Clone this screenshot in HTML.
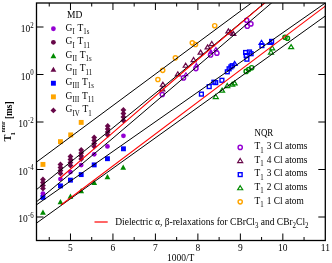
<!DOCTYPE html><html><head><meta charset="utf-8"><style>html,body{margin:0;padding:0;background:#fff}body{width:332px;height:263px;overflow:hidden;position:relative;font-family:"Liberation Serif",serif}</style></head><body><svg width="332" height="263" viewBox="0 0 332 263" style="position:absolute;left:0;top:0;will-change:transform"><rect x="0" y="0" width="332" height="263" fill="#fff"/><defs><clipPath id="c"><rect x="36.50" y="3.00" width="288.80" height="237.50"/></clipPath></defs><rect x="40.50" y="161.95" width="4.90" height="4.90" fill="#ffa500"/><rect x="58.00" y="139.20" width="4.90" height="4.90" fill="#ffa500"/><rect x="68.25" y="132.45" width="4.90" height="4.90" fill="#ffa500"/><rect x="78.75" y="119.95" width="4.90" height="4.90" fill="#ffa500"/><path d="M42.95 209.60L45.85 214.68L40.05 214.68Z" fill="#008b00"/><path d="M60.45 199.10L63.35 204.18L57.55 204.18Z" fill="#008b00"/><path d="M70.45 193.60L73.35 198.68L67.55 198.68Z" fill="#008b00"/><path d="M81.20 188.10L84.10 193.18L78.30 193.18Z" fill="#008b00"/><path d="M94.20 179.85L97.10 184.93L91.30 184.93Z" fill="#008b00"/><path d="M107.45 174.10L110.35 179.18L104.55 179.18Z" fill="#008b00"/><path d="M123.20 164.60L126.10 169.68L120.30 169.68Z" fill="#008b00"/><rect x="40.50" y="194.95" width="4.90" height="4.90" fill="#0000ff"/><rect x="58.00" y="183.45" width="4.90" height="4.90" fill="#0000ff"/><rect x="68.00" y="177.70" width="4.90" height="4.90" fill="#0000ff"/><rect x="78.75" y="172.15" width="4.90" height="4.90" fill="#0000ff"/><rect x="91.75" y="162.45" width="4.90" height="4.90" fill="#0000ff"/><rect x="105.00" y="156.25" width="4.90" height="4.90" fill="#0000ff"/><rect x="121.00" y="146.35" width="4.90" height="4.90" fill="#0000ff"/><circle cx="42.95" cy="193.60" r="2.40" fill="#9400d3"/><circle cx="60.45" cy="179.10" r="2.40" fill="#9400d3"/><circle cx="70.45" cy="172.10" r="2.40" fill="#9400d3"/><circle cx="81.20" cy="165.10" r="2.40" fill="#9400d3"/><circle cx="94.20" cy="154.30" r="2.40" fill="#9400d3"/><circle cx="107.45" cy="146.40" r="2.40" fill="#9400d3"/><circle cx="123.45" cy="135.80" r="2.40" fill="#9400d3"/><path d="M42.95 176.60L45.85 179.50L42.95 182.40L40.05 179.50Z" fill="#670748"/><path d="M42.95 179.60L45.85 182.50L42.95 185.40L40.05 182.50Z" fill="#670748"/><path d="M42.95 182.60L45.85 185.50L42.95 188.40L40.05 185.50Z" fill="#670748"/><path d="M42.95 185.60L45.85 188.50L42.95 191.40L40.05 188.50Z" fill="#670748"/><path d="M60.45 161.60L63.35 164.50L60.45 167.40L57.55 164.50Z" fill="#670748"/><path d="M60.45 164.60L63.35 167.50L60.45 170.40L57.55 167.50Z" fill="#670748"/><path d="M60.45 167.60L63.35 170.50L60.45 173.40L57.55 170.50Z" fill="#670748"/><path d="M60.45 170.60L63.35 173.50L60.45 176.40L57.55 173.50Z" fill="#670748"/><path d="M70.45 153.60L73.35 156.50L70.45 159.40L67.55 156.50Z" fill="#670748"/><path d="M70.45 156.60L73.35 159.50L70.45 162.40L67.55 159.50Z" fill="#670748"/><path d="M70.45 159.60L73.35 162.50L70.45 165.40L67.55 162.50Z" fill="#670748"/><path d="M70.45 162.60L73.35 165.50L70.45 168.40L67.55 165.50Z" fill="#670748"/><path d="M81.20 147.10L84.10 150.00L81.20 152.90L78.30 150.00Z" fill="#670748"/><path d="M81.20 150.10L84.10 153.00L81.20 155.90L78.30 153.00Z" fill="#670748"/><path d="M81.20 153.10L84.10 156.00L81.20 158.90L78.30 156.00Z" fill="#670748"/><path d="M81.20 156.10L84.10 159.00L81.20 161.90L78.30 159.00Z" fill="#670748"/><path d="M94.20 134.60L97.10 137.50L94.20 140.40L91.30 137.50Z" fill="#670748"/><path d="M94.20 137.60L97.10 140.50L94.20 143.40L91.30 140.50Z" fill="#670748"/><path d="M94.20 140.60L97.10 143.50L94.20 146.40L91.30 143.50Z" fill="#670748"/><path d="M94.20 143.60L97.10 146.50L94.20 149.40L91.30 146.50Z" fill="#670748"/><path d="M107.70 123.10L110.60 126.00L107.70 128.90L104.80 126.00Z" fill="#670748"/><path d="M107.70 126.10L110.60 129.00L107.70 131.90L104.80 129.00Z" fill="#670748"/><path d="M107.70 129.10L110.60 132.00L107.70 134.90L104.80 132.00Z" fill="#670748"/><path d="M107.70 132.10L110.60 135.00L107.70 137.90L104.80 135.00Z" fill="#670748"/><path d="M123.40 107.10L126.30 110.00L123.40 112.90L120.50 110.00Z" fill="#670748"/><path d="M123.40 110.60L126.30 113.50L123.40 116.40L120.50 113.50Z" fill="#670748"/><path d="M123.40 114.10L126.30 117.00L123.40 119.90L120.50 117.00Z" fill="#670748"/><path d="M123.40 117.60L126.30 120.50L123.40 123.40L120.50 120.50Z" fill="#670748"/><circle cx="157.90" cy="79.50" r="2.10" fill="none" stroke="#ffa500" stroke-width="1.45"/><circle cx="162.70" cy="70.30" r="2.10" fill="none" stroke="#ffa500" stroke-width="1.45"/><circle cx="175.40" cy="57.80" r="2.10" fill="none" stroke="#ffa500" stroke-width="1.45"/><circle cx="192.30" cy="42.80" r="2.10" fill="none" stroke="#ffa500" stroke-width="1.45"/><circle cx="195.50" cy="44.50" r="2.10" fill="none" stroke="#ffa500" stroke-width="1.45"/><circle cx="214.70" cy="25.70" r="2.10" fill="none" stroke="#ffa500" stroke-width="1.45"/><path d="M162.90 82.20L165.40 86.25L160.40 86.25Z" fill="none" stroke="#670748" stroke-width="1.2"/><path d="M162.30 86.80L164.80 90.85L159.80 90.85Z" fill="none" stroke="#670748" stroke-width="1.2"/><path d="M177.80 71.80L180.30 75.85L175.30 75.85Z" fill="none" stroke="#670748" stroke-width="1.2"/><path d="M185.70 63.20L188.20 67.25L183.20 67.25Z" fill="none" stroke="#670748" stroke-width="1.2"/><path d="M193.60 57.50L196.10 61.55L191.10 61.55Z" fill="none" stroke="#670748" stroke-width="1.2"/><path d="M200.60 50.10L203.10 54.15L198.10 54.15Z" fill="none" stroke="#670748" stroke-width="1.2"/><path d="M207.60 44.90L210.10 48.95L205.10 48.95Z" fill="none" stroke="#670748" stroke-width="1.2"/><path d="M211.80 41.50L214.30 45.55L209.30 45.55Z" fill="none" stroke="#670748" stroke-width="1.2"/><path d="M228.40 28.90L230.90 32.95L225.90 32.95Z" fill="none" stroke="#670748" stroke-width="1.2"/><path d="M230.40 30.10L232.90 34.15L227.90 34.15Z" fill="none" stroke="#670748" stroke-width="1.2"/><path d="M233.30 31.30L235.80 35.35L230.80 35.35Z" fill="none" stroke="#670748" stroke-width="1.2"/><circle cx="162.30" cy="94.50" r="2.10" fill="none" stroke="#9400d3" stroke-width="1.45"/><circle cx="183.50" cy="77.90" r="2.10" fill="none" stroke="#9400d3" stroke-width="1.45"/><circle cx="195.90" cy="68.60" r="2.10" fill="none" stroke="#9400d3" stroke-width="1.45"/><circle cx="210.60" cy="55.00" r="2.10" fill="none" stroke="#9400d3" stroke-width="1.45"/><circle cx="216.90" cy="53.20" r="2.10" fill="none" stroke="#9400d3" stroke-width="1.45"/><circle cx="246.70" cy="20.30" r="2.10" fill="none" stroke="#9400d3" stroke-width="1.45"/><circle cx="247.30" cy="26.30" r="2.10" fill="none" stroke="#9400d3" stroke-width="1.45"/><circle cx="250.90" cy="23.90" r="2.10" fill="none" stroke="#9400d3" stroke-width="1.45"/><path d="M185.90 72.80L187.70 75.72L184.10 75.72Z" fill="none" stroke="#9400d3" stroke-width="1.2"/><path d="M196.40 63.50L198.20 66.42L194.60 66.42Z" fill="none" stroke="#9400d3" stroke-width="1.2"/><path d="M210.90 49.90L212.70 52.82L209.10 52.82Z" fill="none" stroke="#9400d3" stroke-width="1.2"/><path d="M215.90 47.60L217.70 50.52L214.10 50.52Z" fill="none" stroke="#9400d3" stroke-width="1.2"/><rect x="199.50" y="92.20" width="3.80" height="3.80" fill="none" stroke="#0000ff" stroke-width="1.4"/><rect x="207.30" y="84.70" width="3.80" height="3.80" fill="none" stroke="#0000ff" stroke-width="1.4"/><rect x="212.00" y="80.30" width="3.80" height="3.80" fill="none" stroke="#0000ff" stroke-width="1.4"/><rect x="213.80" y="80.70" width="3.80" height="3.80" fill="none" stroke="#0000ff" stroke-width="1.4"/><rect x="220.00" y="78.40" width="3.80" height="3.80" fill="none" stroke="#0000ff" stroke-width="1.4"/><rect x="225.40" y="69.90" width="3.80" height="3.80" fill="none" stroke="#0000ff" stroke-width="1.4"/><rect x="227.20" y="66.90" width="3.80" height="3.80" fill="none" stroke="#0000ff" stroke-width="1.4"/><rect x="229.00" y="65.00" width="3.80" height="3.80" fill="none" stroke="#0000ff" stroke-width="1.4"/><rect x="230.30" y="63.80" width="3.80" height="3.80" fill="none" stroke="#0000ff" stroke-width="1.4"/><rect x="243.70" y="50.60" width="3.80" height="3.80" fill="none" stroke="#0000ff" stroke-width="1.4"/><rect x="244.30" y="53.70" width="3.80" height="3.80" fill="none" stroke="#0000ff" stroke-width="1.4"/><rect x="245.00" y="57.30" width="3.80" height="3.80" fill="none" stroke="#0000ff" stroke-width="1.4"/><rect x="249.20" y="51.80" width="3.80" height="3.80" fill="none" stroke="#0000ff" stroke-width="1.4"/><rect x="247.60" y="50.10" width="3.80" height="3.80" fill="none" stroke="#0000ff" stroke-width="1.4"/><rect x="260.00" y="43.70" width="3.80" height="3.80" fill="none" stroke="#0000ff" stroke-width="1.4"/><rect x="269.70" y="39.50" width="3.80" height="3.80" fill="none" stroke="#0000ff" stroke-width="1.4"/><path d="M234.60 61.40L237.10 65.45L232.10 65.45Z" fill="none" stroke="#0000ff" stroke-width="1.2"/><path d="M261.50 40.30L264.00 44.35L259.00 44.35Z" fill="none" stroke="#0000ff" stroke-width="1.2"/><path d="M270.40 40.30L272.90 44.35L267.90 44.35Z" fill="none" stroke="#0000ff" stroke-width="1.2"/><path d="M215.80 94.50L218.30 98.55L213.30 98.55Z" fill="none" stroke="#008b00" stroke-width="1.2"/><path d="M222.10 88.10L224.60 92.15L219.60 92.15Z" fill="none" stroke="#008b00" stroke-width="1.2"/><path d="M227.30 83.50L229.80 87.55L224.80 87.55Z" fill="none" stroke="#008b00" stroke-width="1.2"/><path d="M232.20 82.10L234.70 86.15L229.70 86.15Z" fill="none" stroke="#008b00" stroke-width="1.2"/><path d="M234.60 80.90L237.10 84.95L232.10 84.95Z" fill="none" stroke="#008b00" stroke-width="1.2"/><path d="M272.20 45.80L274.70 49.85L269.70 49.85Z" fill="none" stroke="#008b00" stroke-width="1.2"/><path d="M271.00 50.00L273.50 54.05L268.50 54.05Z" fill="none" stroke="#008b00" stroke-width="1.2"/><path d="M291.10 44.60L293.60 48.65L288.60 48.65Z" fill="none" stroke="#008b00" stroke-width="1.2"/><circle cx="246.20" cy="71.40" r="2.10" fill="none" stroke="#008b00" stroke-width="1.45"/><circle cx="248.70" cy="69.50" r="2.10" fill="none" stroke="#008b00" stroke-width="1.45"/><circle cx="251.70" cy="67.70" r="2.10" fill="none" stroke="#008b00" stroke-width="1.45"/><circle cx="285.00" cy="37.20" r="2.10" fill="none" stroke="#008b00" stroke-width="1.45"/><circle cx="287.40" cy="38.20" r="2.10" fill="none" stroke="#008b00" stroke-width="1.45"/><g clip-path="url(#c)" stroke-width="1" fill="none"><polyline points="36.40,162.20 251.80,2.70" stroke="#000" stroke-width="1.00" stroke-linejoin="round"/><polyline points="36.40,189.70 110.00,130.20 186.00,68.30 230.00,31.80 264.90,2.70" stroke="#000" stroke-width="1.00" stroke-linejoin="round"/><polyline points="36.40,201.90 110.00,140.60 190.00,72.50 271.90,2.70" stroke="#000" stroke-width="1.00" stroke-linejoin="round"/><polyline points="36.40,204.90 325.30,3.00" stroke="#000" stroke-width="1.00" stroke-linejoin="round"/><polyline points="36.40,223.20 325.30,16.00" stroke="#000" stroke-width="1.00" stroke-linejoin="round"/><polyline points="60.20,178.00 110.00,135.20 186.00,69.50 265.20,2.70" stroke="#ff0000" stroke-width="1.05" stroke-linejoin="round"/><polyline points="61.00,205.00 325.30,6.10" stroke="#ff0000" stroke-width="1.05" stroke-linejoin="round"/></g><rect x="36.50" y="3.00" width="288.80" height="237.50" fill="none" stroke="#000" stroke-width="1.3"/><g stroke="#000" stroke-width="1"><line x1="49.24" y1="240.50" x2="49.24" y2="237.00"/><line x1="49.24" y1="3.00" x2="49.24" y2="6.50"/><line x1="70.48" y1="240.50" x2="70.48" y2="233.50"/><line x1="70.48" y1="3.00" x2="70.48" y2="10.00"/><line x1="91.71" y1="240.50" x2="91.71" y2="237.00"/><line x1="91.71" y1="3.00" x2="91.71" y2="6.50"/><line x1="112.95" y1="240.50" x2="112.95" y2="233.50"/><line x1="112.95" y1="3.00" x2="112.95" y2="10.00"/><line x1="134.18" y1="240.50" x2="134.18" y2="237.00"/><line x1="134.18" y1="3.00" x2="134.18" y2="6.50"/><line x1="155.42" y1="240.50" x2="155.42" y2="233.50"/><line x1="155.42" y1="3.00" x2="155.42" y2="10.00"/><line x1="176.65" y1="240.50" x2="176.65" y2="237.00"/><line x1="176.65" y1="3.00" x2="176.65" y2="6.50"/><line x1="197.89" y1="240.50" x2="197.89" y2="233.50"/><line x1="197.89" y1="3.00" x2="197.89" y2="10.00"/><line x1="219.12" y1="240.50" x2="219.12" y2="237.00"/><line x1="219.12" y1="3.00" x2="219.12" y2="6.50"/><line x1="240.36" y1="240.50" x2="240.36" y2="233.50"/><line x1="240.36" y1="3.00" x2="240.36" y2="10.00"/><line x1="261.59" y1="240.50" x2="261.59" y2="237.00"/><line x1="261.59" y1="3.00" x2="261.59" y2="6.50"/><line x1="282.83" y1="240.50" x2="282.83" y2="233.50"/><line x1="282.83" y1="3.00" x2="282.83" y2="10.00"/><line x1="304.06" y1="240.50" x2="304.06" y2="237.00"/><line x1="304.06" y1="3.00" x2="304.06" y2="6.50"/><line x1="36.50" y1="217.00" x2="43.50" y2="217.00"/><line x1="325.30" y1="217.00" x2="318.30" y2="217.00"/><line x1="36.50" y1="169.50" x2="43.50" y2="169.50"/><line x1="325.30" y1="169.50" x2="318.30" y2="169.50"/><line x1="36.50" y1="122.00" x2="43.50" y2="122.00"/><line x1="325.30" y1="122.00" x2="318.30" y2="122.00"/><line x1="36.50" y1="74.50" x2="43.50" y2="74.50"/><line x1="325.30" y1="74.50" x2="318.30" y2="74.50"/><line x1="36.50" y1="27.00" x2="43.50" y2="27.00"/><line x1="325.30" y1="27.00" x2="318.30" y2="27.00"/></g><g font-family="Liberation Serif, serif" font-size="9.9" fill="#000"><text transform="translate(70.48 251.30) scale(0.960 1)" text-anchor="middle">5</text><text transform="translate(112.95 251.30) scale(0.960 1)" text-anchor="middle">6</text><text transform="translate(155.42 251.30) scale(0.960 1)" text-anchor="middle">7</text><text transform="translate(197.89 251.30) scale(0.960 1)" text-anchor="middle">8</text><text transform="translate(240.36 251.30) scale(0.960 1)" text-anchor="middle">9</text><text transform="translate(282.83 251.30) scale(0.960 1)" text-anchor="middle">10</text><text transform="translate(325.30 251.30) scale(0.960 1)" text-anchor="middle">11</text><text transform="translate(180.60 260.60) scale(0.960 1)" text-anchor="middle">1000/T</text><text transform="translate(33.60 32.45) scale(0.960 1)" text-anchor="end">10<tspan font-size="7.2" dy="-4.9">2</tspan></text><text transform="translate(33.60 79.95) scale(0.960 1)" text-anchor="end">10<tspan font-size="7.2" dy="-4.9">0</tspan></text><text transform="translate(33.60 127.45) scale(0.960 1)" text-anchor="end">10<tspan font-size="7.2" dy="-4.9">-2</tspan></text><text transform="translate(33.60 174.95) scale(0.960 1)" text-anchor="end">10<tspan font-size="7.2" dy="-4.9">-4</tspan></text><text transform="translate(33.60 222.45) scale(0.960 1)" text-anchor="end">10<tspan font-size="7.2" dy="-4.9">-6</tspan></text><text transform="translate(67.00 18.00) scale(0.960 1)" text-anchor="start">MD</text><text transform="translate(65.60 30.50) scale(0.960 1)" text-anchor="start">G<tspan font-size="7.2" dy="3.4">I</tspan><tspan dy="-3.4" dx="0.5"> T</tspan><tspan font-size="7.2" dy="3.4">1s</tspan></text><text transform="translate(65.60 44.12) scale(0.960 1)" text-anchor="start">G<tspan font-size="7.2" dy="3.4">I</tspan><tspan dy="-3.4" dx="0.5"> T</tspan><tspan font-size="7.2" dy="3.4">11</tspan></text><text transform="translate(65.60 57.74) scale(0.960 1)" text-anchor="start">G<tspan font-size="7.2" dy="3.4">II</tspan><tspan dy="-3.4" dx="0.5"> T</tspan><tspan font-size="7.2" dy="3.4">1s</tspan></text><text transform="translate(65.60 71.36) scale(0.960 1)" text-anchor="start">G<tspan font-size="7.2" dy="3.4">II</tspan><tspan dy="-3.4" dx="0.5"> T</tspan><tspan font-size="7.2" dy="3.4">11</tspan></text><text transform="translate(65.60 84.98) scale(0.960 1)" text-anchor="start">G<tspan font-size="7.2" dy="3.4">III</tspan><tspan dy="-3.4" dx="0.5"> T</tspan><tspan font-size="7.2" dy="3.4">1s</tspan></text><text transform="translate(65.60 98.60) scale(0.960 1)" text-anchor="start">G<tspan font-size="7.2" dy="3.4">III</tspan><tspan dy="-3.4" dx="0.5"> T</tspan><tspan font-size="7.2" dy="3.4">11</tspan></text><text transform="translate(65.60 112.22) scale(0.960 1)" text-anchor="start">G<tspan font-size="7.2" dy="3.4">IV</tspan><tspan dy="-3.4" dx="0.5"> T</tspan><tspan font-size="7.2" dy="3.4">1</tspan></text><text transform="translate(254.50 136.00) scale(0.900 1)" text-anchor="start">NQR</text><text transform="translate(254.50 149.10) scale(0.950 1)" text-anchor="start">T<tspan font-size="7.2" dy="3.4">1</tspan><tspan dy="-3.4" dx="0.8"> 3 Cl atoms</tspan></text><text transform="translate(254.50 162.70) scale(0.950 1)" text-anchor="start">T<tspan font-size="7.2" dy="3.4">1</tspan><tspan dy="-3.4" dx="0.8"> 4 Cl atoms</tspan></text><text transform="translate(254.50 176.30) scale(0.950 1)" text-anchor="start">T<tspan font-size="7.2" dy="3.4">1</tspan><tspan dy="-3.4" dx="0.8"> 3 Cl atoms</tspan></text><text transform="translate(254.50 189.90) scale(0.950 1)" text-anchor="start">T<tspan font-size="7.2" dy="3.4">1</tspan><tspan dy="-3.4" dx="0.8"> 2 Cl atoms</tspan></text><text transform="translate(254.50 203.50) scale(0.950 1)" text-anchor="start">T<tspan font-size="7.2" dy="3.4">1</tspan><tspan dy="-3.4" dx="0.8"> 1 Cl atom</tspan></text><text transform="translate(115.20 224.70) scale(0.960 1)" text-anchor="start">Dielectric α, β-relaxations for CBrCl<tspan font-size="7.2" dy="3.4">3</tspan><tspan dy="-3.4"> and CBr</tspan><tspan font-size="7.2" dy="3.4">2</tspan><tspan dy="-3.4">Cl</tspan><tspan font-size="7.2" dy="3.4">2</tspan></text></g><line x1="94.5" y1="222" x2="107.7" y2="222" stroke="#ff0000" stroke-width="1.2"/><circle cx="53.40" cy="28.75" r="2.40" fill="#9400d3"/><circle cx="53.40" cy="42.37" r="2.40" fill="#670748"/><path d="M53.40 53.09L56.30 58.16L50.50 58.16Z" fill="#008b00"/><path d="M53.40 66.71L56.30 71.78L50.50 71.78Z" fill="#670748"/><rect x="50.95" y="80.78" width="4.90" height="4.90" fill="#0000ff"/><rect x="50.95" y="94.40" width="4.90" height="4.90" fill="#ffa500"/><path d="M53.40 107.57L56.30 110.47L53.40 113.37L50.50 110.47Z" fill="#670748"/><circle cx="240.20" cy="147.40" r="2.10" fill="none" stroke="#9400d3" stroke-width="1.45"/><path d="M240.20 158.50L242.70 162.55L237.70 162.55Z" fill="none" stroke="#670748" stroke-width="1.2"/><rect x="238.30" y="172.70" width="3.80" height="3.80" fill="none" stroke="#0000ff" stroke-width="1.4"/><path d="M240.20 185.70L242.70 189.75L237.70 189.75Z" fill="none" stroke="#008b00" stroke-width="1.2"/><circle cx="240.20" cy="201.80" r="2.10" fill="none" stroke="#ffa500" stroke-width="1.45"/><g transform="translate(11.2,141.4) rotate(-90)" font-family="Liberation Serif, serif" font-weight="bold" fill="#000"><text x="0" y="0" font-size="10.5">T</text><text x="5.9" y="3.4" font-size="6.5">1</text><text x="8.8" y="-6.2" font-size="6.2">nmr</text><text x="22.4" y="0.3" font-size="9.3">[ms]</text></g></svg></body></html>
